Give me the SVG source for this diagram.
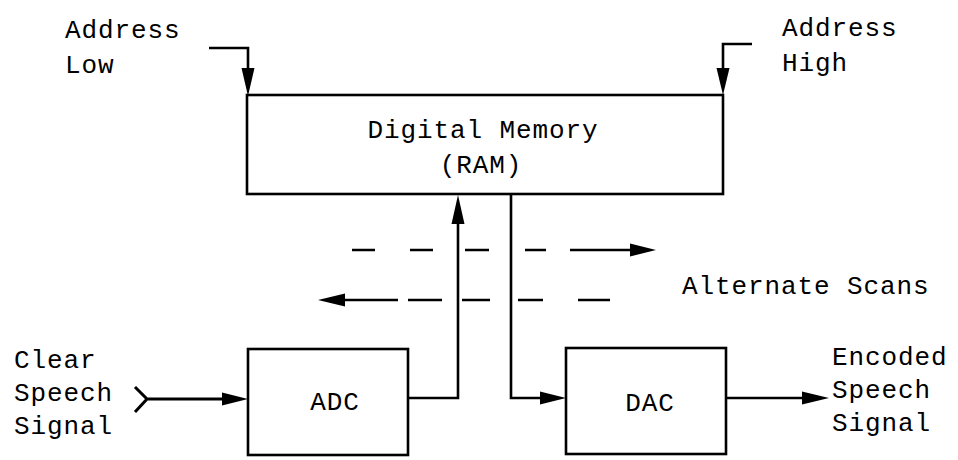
<svg xmlns="http://www.w3.org/2000/svg" width="958" height="460" viewBox="0 0 958 460">
<style>
text{font-family:"Liberation Mono","DejaVu Sans Mono",monospace;font-size:26px;letter-spacing:0.9px;fill:#000}
.box{fill:none;stroke:#000;stroke-width:2.6}
.ln{fill:none;stroke:#000;stroke-width:2.6}
.ah{fill:#000;stroke:none}
</style>
<rect width="958" height="460" fill="#fff"/>
<g id="ram">
<rect class="box" x="247" y="95" width="476" height="99"/>
<text x="483" y="138" text-anchor="middle">Digital Memory</text>
<text x="481" y="173" text-anchor="middle">(RAM)</text>
</g>
<g id="adc">
<rect class="box" x="248" y="349" width="160" height="106"/>
<text x="335" y="410" text-anchor="middle">ADC</text>
</g>
<g id="dac">
<rect class="box" x="566" y="348" width="160" height="106"/>
<text x="650" y="411" text-anchor="middle">DAC</text>
</g>
<g id="labels">
<text x="65" y="38">Address</text>
<text x="65" y="73">Low</text>
<text x="782" y="36">Address</text>
<text x="782" y="71">High</text>
<text x="682" y="294">Alternate Scans</text>
<text x="14" y="368">Clear</text>
<text x="14" y="401">Speech</text>
<text x="14" y="434">Signal</text>
<text x="832" y="365">Encoded</text>
<text x="832" y="398">Speech</text>
<text x="832" y="431">Signal</text>
</g>
<g id="connectors">
<path class="ln" d="M209 48 H248 V70"/>
<polygon class="ah" points="241.5,68 254.5,68 248,96"/>
<path class="ln" d="M752 44 H723 V70"/>
<polygon class="ah" points="716.5,68 729.5,68 723,95"/>
<path class="ln" d="M408 398 H458 V222"/>
<polygon class="ah" points="451.5,224 464.5,224 458,195"/>
<path class="ln" d="M511 195 V398 H542"/>
<polygon class="ah" points="540,391.5 540,404.5 566,398"/>
<path class="ln" d="M135 387 L147 399 L135 412 M147 399 H225" style="stroke-width:3"/>
<polygon class="ah" points="222,392.5 222,405.5 248,399"/>
<path class="ln" d="M726 398 H805"/>
<polygon class="ah" points="802,391.5 802,404.5 829,398"/>
<path class="ln" d="M352 250 H375 M410 250 H433 M465 250 H489 M525 250 H546 M570 250 H632"/>
<polygon class="ah" points="630,243.5 630,256.5 656,250"/>
<path class="ln" d="M343 300 H398 M408 300 H442 M462 300 H490 M518 300 H543 M578 300 H610"/>
<polygon class="ah" points="345,293.5 345,306.5 318,300"/>
</g>
</svg>
